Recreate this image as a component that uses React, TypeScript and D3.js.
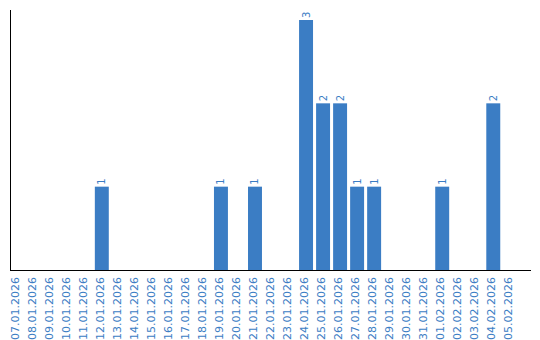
import React from "react";
import * as d3 from "d3";

const dates = [
  "07.01.2026","08.01.2026","09.01.2026","10.01.2026","11.01.2026","12.01.2026",
  "13.01.2026","14.01.2026","15.01.2026","16.01.2026","17.01.2026","18.01.2026",
  "19.01.2026","20.01.2026","21.01.2026","22.01.2026","23.01.2026","24.01.2026",
  "25.01.2026","26.01.2026","27.01.2026","28.01.2026","29.01.2026","30.01.2026",
  "31.01.2026","01.02.2026","02.02.2026","03.02.2026","04.02.2026","05.02.2026",
];
const counts = [
  0,0,0,0,0,1,
  0,0,0,0,0,0,
  1,0,1,0,0,3,
  2,2,1,1,0,0,
  0,1,0,0,2,0,
];

const W = 540, H = 340;
const BLUE = "#3b7dc4";
const FONT = "DejaVu Sans, Verdana, sans-serif";

export default function App() {
  const x = d3.scaleBand<string>().domain(dates).range([8.2, 518.8]).paddingInner(0.18).paddingOuter(0.09);
  const y = d3.scaleLinear().domain([0, 3]).range([270, 20]);
  return (
    <svg width={W} height={H} style={{ position: "absolute", left: 0, top: 0, display: "block" }}>
      <rect width={W} height={H} fill="#fff" />
      {dates.map((d, i) => counts[i] > 0 ? (
        <g key={d}>
          <rect x={x(d)} y={y(counts[i])} width={x.bandwidth()} height={y(0) - y(counts[i])} fill={BLUE} />
          <text transform={`translate(${x(d)! + x.bandwidth() / 2 + 3.5},${y(counts[i]) - 2}) rotate(-90)`}
            fontFamily={FONT} fontSize={10} fill={BLUE}>{counts[i]}</text>
        </g>
      ) : null)}
      <line x1={10.5} x2={10.5} y1={10} y2={270.5} stroke="#000" strokeWidth={1} />
      <line x1={10} x2={531} y1={270.5} y2={270.5} stroke="#000" strokeWidth={1} />
      {dates.map(d => (
        <text key={"t" + d} transform={`translate(${x(d)! + x.bandwidth() / 2 + 2},277) rotate(-90)`}
          textAnchor="end" fontFamily={FONT} fontSize={11} fill={BLUE}>{d}</text>
      ))}
    </svg>
  );
}
